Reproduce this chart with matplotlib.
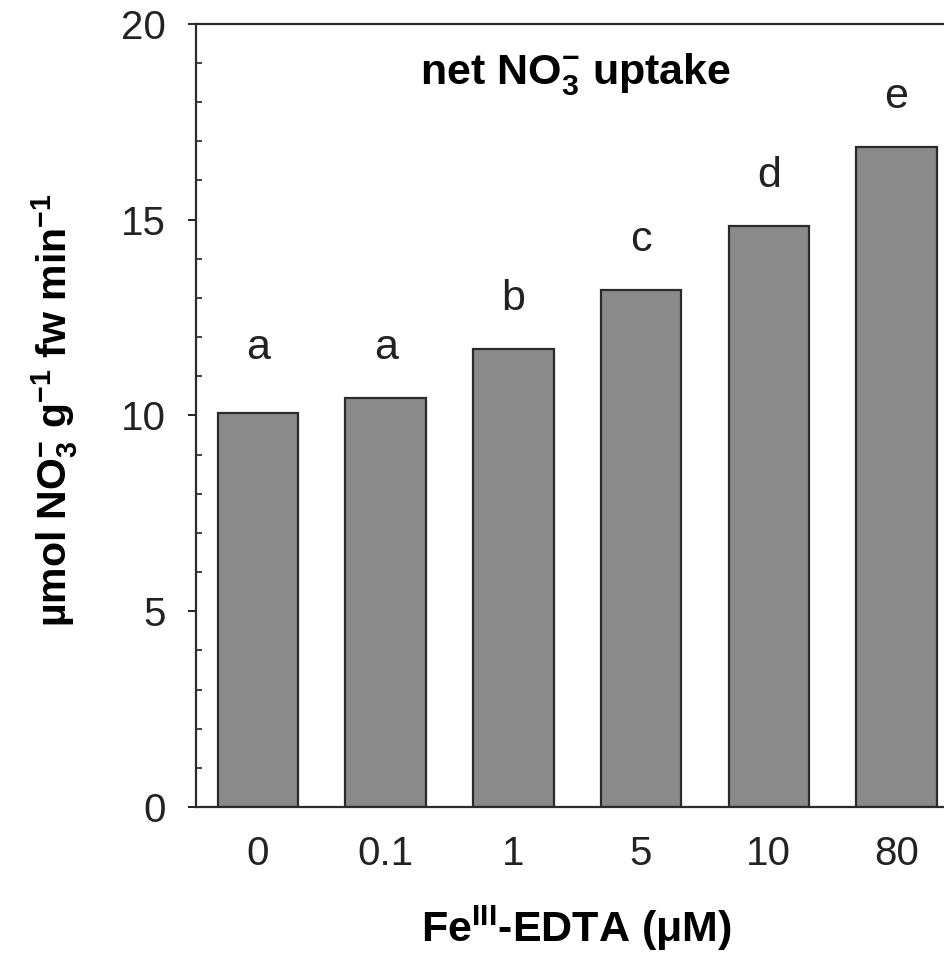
import numpy as np
import matplotlib
matplotlib.use('Agg')
import matplotlib.pyplot as plt
from matplotlib.ticker import MultipleLocator

plt.rcParams['font.family'] = ['Liberation Sans', 'DejaVu Sans']
plt.rcParams['mathtext.fontset'] = 'custom'
plt.rcParams['mathtext.rm'] = 'Liberation Sans'
plt.rcParams['mathtext.bf'] = 'Liberation Sans:bold'
plt.rcParams['mathtext.it'] = 'Liberation Sans:italic'

# data
fe_edta = ['0', '0.1', '1', '5', '10', '80']
uptake = [10.06, 10.44, 11.70, 13.20, 14.84, 16.86]
letters = ['a', 'a', 'b', 'c', 'd', 'e']

fig = plt.figure(figsize=(9.45, 9.55), dpi=100)
ax = fig.add_axes([0.2074, 0.155, 0.7926, 0.82])

x = np.arange(len(fe_edta))
ax.bar(x, uptake, width=0.63, color='#8a8a8a', edgecolor='#2b2b2b', linewidth=1.6)

# significance letters, same letter groups share a height
for i, (v, l) in enumerate(zip(uptake, letters)):
    grp = [u for u, m in zip(uptake, letters) if m == l]
    ax.text(i, max(grp) + 1.0, l, ha='center', va='baseline', fontsize=31, color='#222222')

ax.text(0.507, 0.935, r'net NO$_\mathbf{3}^{\mathbf{-}}$ uptake', transform=ax.transAxes,
        ha='center', va='center', fontsize=31, fontweight='bold')

ax.set_xlim(-0.485, 5.38)
ax.set_ylim(0, 20)
ax.set_xticks(x)
ax.set_xticklabels(fe_edta)
ax.set_yticks([0, 5, 10, 15, 20])
ax.yaxis.set_minor_locator(MultipleLocator(1))
ax.tick_params(axis='x', length=0, pad=20, labelsize=29, colors='#222222')
ax.tick_params(axis='y', which='major', direction='out', length=6, width=1.4, pad=16,
               labelsize=29, colors='#222222')
ax.tick_params(axis='y', which='minor', direction='in', length=4, width=1.2, color='#222222')

for s in ['left', 'top', 'bottom']:
    ax.spines[s].set_linewidth(1.6)
    ax.spines[s].set_color('#2b2b2b')
ax.spines['right'].set_visible(False)

ax.set_xlabel(r'Fe$^{\mathbf{III}}$-EDTA ($\mathbf{\mu}$M)', fontsize=31, fontweight='bold',
              va='bottom')
ax.xaxis.set_label_coords(0.508, -0.187)
ax.set_ylabel(r'µmol NO$_\mathbf{3}^{\mathbf{-}}$ g$^{\mathbf{-1}}$ fw min$^{\mathbf{-1}}$',
              fontsize=29.5, fontweight='bold')
ax.yaxis.set_label_coords(-0.155, 0.507)

fig.savefig('out.png', dpi=100)
